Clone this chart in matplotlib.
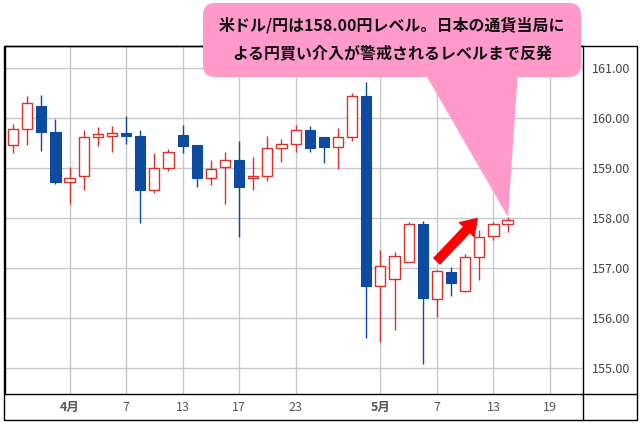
import numpy as np
import matplotlib.pyplot as plt
from matplotlib.patches import FancyBboxPatch, Polygon, Rectangle, FancyArrowPatch
from matplotlib.lines import Line2D
from matplotlib.transforms import IdentityTransform

plt.rcParams['font.family'] = ['Noto Sans CJK JP', 'DejaVu Sans']

# daily USD/JPY candles (open, high, low, close)
opens = [159.46, 159.77, 160.24, 159.72, 158.72, 158.83, 159.61, 159.64, 159.69, 159.63,
         158.56, 158.99, 159.66, 159.46, 158.79, 159.01, 159.15, 158.79, 158.83, 159.39,
         159.47, 159.75, 159.61, 159.42, 159.61, 160.43, 156.64, 156.77, 157.11, 157.88,
         156.37, 156.92, 156.53, 157.21, 157.63, 157.87]
highs = [159.87, 160.43, 160.46, 159.98, 159.01, 159.76, 159.82, 159.84, 160.04, 159.75,
         159.30, 159.38, 159.86, 159.46, 159.15, 159.32, 159.54, 159.22, 159.64, 159.58,
         159.86, 159.84, 159.61, 159.79, 160.49, 160.72, 157.35, 157.31, 157.92, 157.94,
         156.96, 157.01, 157.28, 157.76, 157.91, 158.01]
lows = [159.30, 159.46, 159.34, 158.68, 158.28, 158.56, 159.44, 159.32, 159.48, 157.89,
        158.50, 158.93, 159.30, 158.62, 158.66, 158.28, 157.61, 158.56, 158.74, 159.12,
        159.31, 159.32, 159.10, 158.98, 159.53, 155.59, 155.51, 155.76, 157.11, 155.07,
        156.02, 156.44, 156.51, 156.75, 157.56, 157.71]
closes = [159.78, 160.30, 159.72, 158.72, 158.79, 159.61, 159.68, 159.70, 159.63, 158.56,
          158.99, 159.32, 159.44, 158.80, 158.97, 159.15, 158.62, 158.83, 159.40, 159.48,
          159.75, 159.39, 159.42, 159.61, 160.43, 156.64, 157.04, 157.23, 157.88, 156.39,
          156.94, 156.69, 157.21, 157.61, 157.87, 157.95]

tick_pos = [4, 8, 12, 16, 20, 26, 30, 34, 38]
tick_labels = ['4月', '7', '13', '17', '23', '5月', '7', '13', '19']
y_ticks = [155, 156, 157, 158, 159, 160, 161]

callout = '米ドル/円は158.00円レベル。日本の通貨当局に\nよる円買い介入が警戒されるレベルまで反発'

RED = '#D9302A'
BLUE = '#0D4BA0'
W, H = 640, 423

fig = plt.figure(figsize=(W / 100, H / 100), dpi=100)
ax = fig.add_axes([5 / W, 1 - 394 / H, 578 / W, 348 / H])

x = np.arange(len(opens))
o = np.array(opens)
c = np.array(closes)
up = c >= o
body_w = 0.72

# wicks
ax.vlines(x[up], np.array(lows)[up], np.array(highs)[up], color=RED, lw=1.0, zorder=2)
ax.vlines(x[~up], np.array(lows)[~up], np.array(highs)[~up], color=BLUE, lw=1.0, zorder=2)
# bodies
ax.bar(x[up], (c - o)[up], bottom=o[up], width=body_w, color='white',
       edgecolor=RED, linewidth=1.0, zorder=3)
ax.bar(x[~up], (o - c)[~up], bottom=c[~up], width=body_w, color=BLUE,
       edgecolor=BLUE, linewidth=0.8, zorder=3)

ax.set_xlim(-0.57, 40.34)
ax.set_ylim(154.48, 161.44)
ax.set_xticks(tick_pos)
ax.set_xticklabels(tick_labels, fontsize=9, color='#555555')
for lab in ax.get_xticklabels():
    if '月' in lab.get_text():
        lab.set_fontweight('bold')
ax.set_yticks(y_ticks)
ax.set_yticklabels([f'{v:.2f}' for v in y_ticks], fontsize=9, color='#444444')
ax.yaxis.tick_right()
ax.tick_params(axis='y', length=0, pad=6.5)
ax.tick_params(axis='x', length=0, pad=5)
ax.grid(True, color='#C8C8C8', linewidth=1.0, zorder=0)
ax.set_axisbelow(True)
for s in ax.spines.values():
    s.set_color('black')
    s.set_linewidth(1.0)

# outer frame of the chart panel
fig.patches.append(Rectangle((4 / W, 1 - 420 / H), 633 / W, 374 / H, fill=False,
                             edgecolor='black', linewidth=1.0, transform=fig.transFigure))
fig.lines.append(Line2D([583 / W, 583 / W], [1 - 394 / H, 1 - 420 / H], color='black',
                        linewidth=1.0, transform=fig.transFigure))
fig.lines.append(Line2D([583 / W, 637 / W], [1 - 394 / H, 1 - 394 / H], color='black',
                        linewidth=1.0, transform=fig.transFigure))

# red arrow
ax.add_patch(FancyArrowPatch((30.0, 157.14), (32.86, 157.99),
                             arrowstyle='simple,head_length=1.1,head_width=1.45,tail_width=0.6',
                             mutation_scale=10, color='#FF0000', shrinkA=0, shrinkB=0, zorder=5))

# pink callout (pixel coordinates, origin top-left)
PINK = '#FF9ACB'
ident = IdentityTransform()
fig.patches.append(Polygon([(423, H - 70), (518, H - 70), (508, H - 217)], closed=True,
                           facecolor=PINK, edgecolor='none', transform=ident, zorder=5))
fig.patches.append(FancyBboxPatch((203, H - 77), 378, 74,
                                  boxstyle='round,pad=0,rounding_size=12',
                                  facecolor=PINK, edgecolor='none', transform=ident, zorder=5))
fig.text(392 / W, 1 - 39 / H, callout, ha='center', va='center', fontsize=11.5,
         fontweight='bold', color='#111111', linespacing=1.85, zorder=6)

fig.savefig('out.png', dpi=100)
